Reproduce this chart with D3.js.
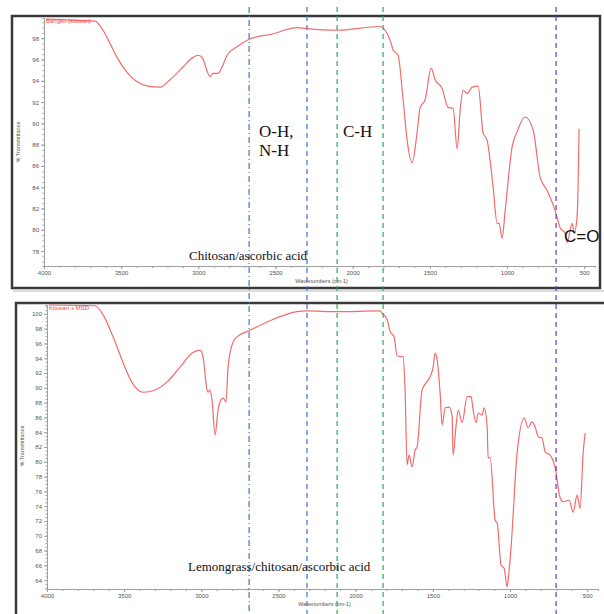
<!DOCTYPE html>
<html lang="en">
<head>
<meta charset="utf-8">
<title>FTIR spectra</title>
<script src="https://cdn.jsdelivr.net/npm/d3@7"></script>
<style>
  body { margin: 0; background: #fff; }
  .axis path, .axis line { stroke: #a0a0a0; stroke-width: 1; }
  .axis text { fill: #555; font-family: "Liberation Sans", Arial, sans-serif; font-size: 6px; }
  .small { fill: #555; font-family: "Liberation Sans", Arial, sans-serif; font-size: 5.5px; }
  .ann { font-family: "Liberation Serif", "Times New Roman", serif; fill: #111; }
</style>
</head>
<body>
<script>
// chitosan / ascorbic acid spectrum (wavenumber, %T)
var wn1 = [3987, 3669, 3618, 3572, 3527, 3462, 3397, 3326, 3248, 3183, 3099, 3034, 3002, 2976,
           2924, 2905, 2872, 2846, 2814, 2749, 2671, 2520, 2360, 2296, 2101, 1822, 1790, 1757,
           1738, 1706, 1673, 1647, 1615, 1583, 1563, 1531, 1492, 1466, 1421, 1382, 1349, 1323,
           1304, 1284, 1259, 1226, 1187, 1155, 1129, 1090, 1064, 1051, 1032, 1012, 967, 935,
           883, 831, 785, 740, 688, 656, 624, 611, 578, 565, 546, 533];
var t1 = [99.8, 99.6, 98.75, 97.5, 96.2, 94.8, 93.9, 93.5, 93.4, 94.1, 95.3, 96.2, 96.4, 96.2,
          94.4, 94.7, 94.7, 95.3, 96.4, 97.2, 97.9, 98.4, 99.0, 98.9, 98.75, 99.1, 98.75, 97.8,
          96.9, 96.4, 92.2, 88.4, 86.3, 89.1, 91.5, 92.2, 95.2, 94.1, 93.3, 91.5, 91.4, 87.6,
          91.2, 93.1, 92.8, 93.4, 93.5, 89.1, 88.4, 84.0, 80.6, 80.6, 79.2, 81.8, 87.8, 89.2,
          90.6, 89.4, 84.9, 83.7, 81.8, 80.2, 79.7, 78.8, 80.6, 79.7, 81.2, 89.5];

// lemongrass / chitosan / ascorbic acid spectrum
var wn2 = [3987, 3689, 3637, 3572, 3507, 3449, 3378, 3300, 3222, 3138, 3060, 3008, 2989, 2963,
           2957, 2944, 2931, 2911, 2892, 2872, 2859, 2840, 2827, 2794, 2749, 2704, 2684, 2574,
           2380, 2315, 2120, 1842, 1829, 1796, 1777, 1751, 1732, 1693, 1680, 1667, 1654, 1634,
           1615, 1602, 1570, 1518, 1498, 1485, 1472, 1453, 1440, 1420, 1394, 1375, 1369, 1349,
           1336, 1310, 1278, 1252, 1239, 1220, 1207, 1181, 1168, 1148, 1142, 1129, 1096, 1083,
           1058, 1038, 1019, 1012, 993, 954, 908, 883, 857, 837, 818, 792, 772, 740, 708, 675,
           656, 617, 591, 565, 546, 526, 513];
var t2 = [101.2, 101.1, 99.9, 96.9, 93.4, 90.7, 89.4, 89.7, 90.8, 92.8, 94.7, 95.1, 94.2, 89.7,
          89.4, 89.7, 88.4, 83.6, 87.0, 88.4, 88.6, 88.1, 92.8, 96.2, 97.2, 97.6, 97.8, 98.9,
          100.3, 100.4, 100.3, 100.4, 100.1, 99.2, 97.6, 96.9, 94.3, 94.2, 89.7, 79.6, 80.9, 79.3,
          81.6, 82.0, 89.7, 91.5, 92.8, 94.7, 93.8, 89.3, 85.0, 87.3, 87.4, 86.1, 80.9, 85.0,
          87.0, 85.3, 88.8, 88.8, 87.0, 85.3, 86.6, 86.3, 87.3, 84.7, 80.5, 80.6, 72.1, 71.7,
          66.0, 65.6, 63.1, 64.0, 68.5, 81.2, 85.9, 84.6, 85.4, 84.7, 83.4, 83.2, 81.3, 80.9, 79.2, 75.1,
          74.6, 74.8, 73.2, 75.5, 73.7, 81.3, 83.9];

var xTicks = [4000, 3500, 3000, 2500, 2000, 1500, 1000, 500];
var yTicks1 = [78, 80, 82, 84, 86, 88, 90, 92, 94, 96, 98];
var yTicks2 = [64, 66, 68, 70, 72, 74, 76, 78, 80, 82, 84, 86, 88, 90, 92, 94, 96, 98, 100];

// band marker lines (wavenumber)
var markers = [2671, 2296, 2101, 1803, 682];
var markerColors = ["#4472c4", "#4472c4", "#2eaa55", "#2eaa55", "#6a3aa8"];
var markerDash = ["6,3,1,3", "5,4", "5,4", "5,4", "5,4"];

var svg = d3.select("body").append("svg")
    .attr("width", 604)
    .attr("height", 614);

function drawPanel(o) {
  var x = d3.scaleLinear().domain([4000, 430]).range([o.left, o.right]);
  var y = d3.scaleLinear().domain(o.ydom).range([o.bottom, o.top]);
  var g = svg.append("g");

  // minor ticks
  g.append("g").attr("class", "axis")
    .attr("transform", "translate(0," + o.bottom + ")")
    .call(d3.axisBottom(x).tickValues(d3.range(4000, 430, -100)).tickSize(2).tickFormat(""));
  g.append("g").attr("class", "axis")
    .attr("transform", "translate(0," + o.bottom + ")")
    .call(d3.axisBottom(x).tickValues(xTicks).tickSizeInner(3).tickSizeOuter(0).tickPadding(2)
      .tickFormat(d3.format("d")));
  g.append("g").attr("class", "axis")
    .attr("transform", "translate(" + o.left + ",0)")
    .call(d3.axisLeft(y).tickValues(d3.range(Math.ceil(o.ydom[0]), o.ydom[1], 0.5)).tickSize(1.5).tickFormat(""));
  g.append("g").attr("class", "axis")
    .attr("transform", "translate(" + o.left + ",0)")
    .call(d3.axisLeft(y).tickValues(o.yticks).tickSizeInner(3).tickSizeOuter(0).tickPadding(2));

  g.append("text").attr("class", "small")
    .attr("x", (o.left + o.right) / 2 + 2).attr("y", o.bottom + 17)
    .attr("text-anchor", "middle").text("Wavenumbers (cm-1)");
  g.append("text").attr("class", "small")
    .attr("transform", "translate(" + o.ylabX + "," + o.ylabY + ") rotate(-90)")
    .attr("text-anchor", "middle").text("% Transmittance");

  var line = d3.line()
    .x(function(d) { return x(d[0]); })
    .y(function(d) { return y(d[1]); })
    .curve(d3.curveMonotoneX);
  g.append("path")
    .datum(d3.zip(o.wn, o.t))
    .attr("d", line)
    .attr("fill", "none")
    .attr("stroke", "#f36b6b")
    .attr("stroke-width", 1.2);

  g.append("text")
    .attr("x", o.left + 2).attr("y", o.top + 5)
    .attr("fill", "#f04848")
    .attr("font-family", "Liberation Sans, Arial, sans-serif")
    .attr("font-size", "6px")
    .text(o.legend);

  return x;
}

// panel frames
svg.append("rect")
  .attr("x", 12).attr("y", 16).attr("width", 588).attr("height", 272)
  .attr("fill", "none").attr("stroke", "#3a3a3a").attr("stroke-width", 2.5);
svg.append("line")
  .attr("x1", 13).attr("x2", 604).attr("y1", 291).attr("y2", 291)
  .attr("stroke", "#cfcfcf").attr("stroke-width", 1.5);
svg.append("path")
  .attr("d", "M16,616 L16,303 L606,303")
  .attr("fill", "none").attr("stroke", "#3a3a3a").attr("stroke-width", 2.5);

var x1 = drawPanel({ left: 44, right: 595, top: 18, bottom: 266, ydom: [76.6, 99.9],
  yticks: yTicks1, wn: wn1, t: t1, legend: "Bangko (kitosan)", ylabX: 20, ylabY: 142 });
drawPanel({ left: 47, right: 598, top: 305, bottom: 589, ydom: [62.8, 101.2],
  yticks: yTicks2, wn: wn2, t: t2, legend: "Kitosan + MSD", ylabX: 24, ylabY: 446 });

// band marker lines across both panels
svg.selectAll(".marker")
  .data(markers)
  .enter().append("line")
  .attr("class", "marker")
  .attr("x1", function(d) { return x1(d); })
  .attr("x2", function(d) { return x1(d); })
  .attr("y1", 7).attr("y2", 614)
  .attr("stroke", function(d, i) { return markerColors[i]; })
  .attr("stroke-dasharray", function(d, i) { return markerDash[i]; })
  .attr("stroke-width", 1.2);

// annotations
svg.append("text").attr("class", "ann").attr("font-size", "17px")
  .attr("x", 259).attr("y", 137).text("O-H,");
svg.append("text").attr("class", "ann").attr("font-size", "17px")
  .attr("x", 259).attr("y", 156).text("N-H");
svg.append("text").attr("class", "ann").attr("font-size", "17px")
  .attr("x", 343).attr("y", 137).text("C-H");
svg.append("text").attr("font-size", "17px")
  .attr("font-family", "Liberation Sans, Arial, sans-serif").attr("fill", "#111")
  .attr("x", 564).attr("y", 242).text("C=O");
svg.append("text").attr("class", "ann").attr("font-size", "13px")
  .attr("x", 189).attr("y", 260).text("Chitosan/ascorbic acid");
svg.append("text").attr("class", "ann").attr("font-size", "13px")
  .attr("x", 188).attr("y", 571).text("Lemongrass/chitosan/ascorbic acid");
</script>
</body>
</html>
